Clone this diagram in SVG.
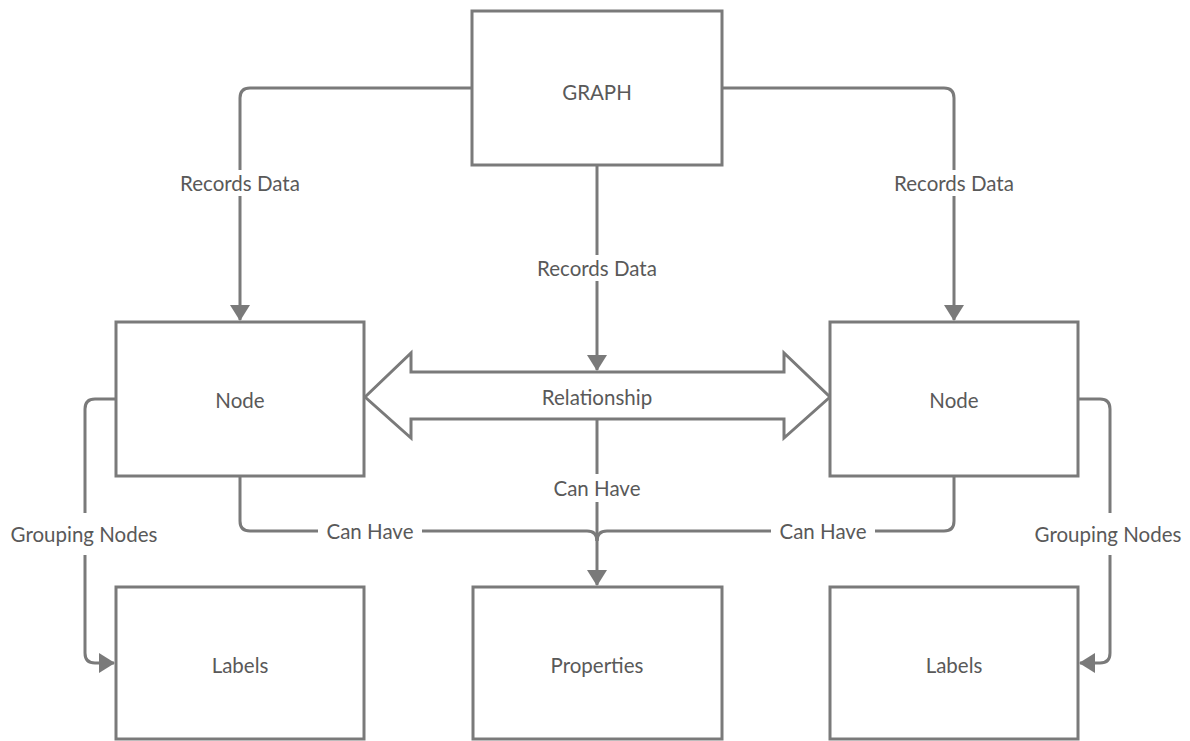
<svg xmlns="http://www.w3.org/2000/svg" width="1190" height="741" viewBox="0 0 1190 741">
<style>
.box{fill:#fff;stroke:#7a7a7a;stroke-width:3}
.ln{fill:none;stroke:#7a7a7a;stroke-width:3}
.t{font-family:Lato,"Liberation Sans",sans-serif;font-size:20.5px;fill:#595959;text-anchor:middle;dominant-baseline:central}
.bg{fill:#fff}
</style>
<defs>
<marker id="ah" viewBox="0 0 16 20" refX="15" refY="10" markerWidth="16" markerHeight="20" markerUnits="userSpaceOnUse" orient="auto">
<path d="M0 0 L16 10 L0 20 z" fill="#7a7a7a"/>
</marker>
</defs>
<rect width="1190" height="741" fill="#fff"/>
<g id="connectors">
<path class="ln" d="M472 88 H250 Q240 88 240 98 V320" marker-end="url(#ah)"/>
<path class="ln" d="M722 88 H944 Q954 88 954 98 V320" marker-end="url(#ah)"/>
<path class="ln" d="M597 165 V370" marker-end="url(#ah)"/>
<path class="ln" d="M597 419 V585" marker-end="url(#ah)"/>
<path class="ln" d="M240 476 V521 Q240 531 250 531 H587 Q597 531 597 541"/>
<path class="ln" d="M954 476 V521 Q954 531 944 531 H607 Q597 531 597 541"/>
<path class="ln" d="M116 399 H95 Q85 399 85 409 V653 Q85 663 95 663 H114" marker-end="url(#ah)"/>
<path class="ln" d="M1078 399 H1100 Q1110 399 1110 409 V653 Q1110 663 1100 663 H1080" marker-end="url(#ah)"/>
<polygon id="relationship" class="box" points="365,397 411,353 411,372 784,372 784,353 830,397 784,438 784,419 411,419 411,438"/>
<rect class="bg" x="172" y="170" width="136" height="26"/>
<text class="t" x="240" y="183">Records Data</text>
<rect class="bg" x="886" y="170" width="136" height="26"/>
<text class="t" x="954" y="183">Records Data</text>
<rect class="bg" x="529" y="255" width="136" height="26"/>
<text class="t" x="597" y="268">Records Data</text>
<text class="t" x="597" y="397">Relationship</text>
<rect class="bg" x="545" y="474" width="104" height="28"/>
<text class="t" x="597" y="488">Can Have</text>
<rect class="bg" x="318" y="518" width="104" height="26"/>
<text class="t" x="370" y="531">Can Have</text>
<rect class="bg" x="771" y="518" width="104" height="26"/>
<text class="t" x="823" y="531">Can Have</text>
<rect class="bg" x="4" y="513" width="160" height="42"/>
<text class="t" x="84" y="534">Grouping Nodes</text>
<rect class="bg" x="1028" y="513" width="160" height="42"/>
<text class="t" x="1108" y="534">Grouping Nodes</text>
</g>
<g id="graph"><rect class="box" x="472" y="11" width="250" height="154"/><text class="t" x="597" y="92">GRAPH</text></g>
<g id="node-left"><rect class="box" x="116" y="322" width="248" height="154"/><text class="t" x="240" y="400">Node</text></g>
<g id="node-right"><rect class="box" x="830" y="322" width="248" height="154"/><text class="t" x="954" y="400">Node</text></g>
<g id="labels-left"><rect class="box" x="116" y="587" width="248" height="152"/><text class="t" x="240" y="665">Labels</text></g>
<g id="properties"><rect class="box" x="473" y="587" width="249" height="152"/><text class="t" x="597" y="665">Properties</text></g>
<g id="labels-right"><rect class="box" x="830" y="587" width="248" height="152"/><text class="t" x="954" y="665">Labels</text></g>
</svg>
